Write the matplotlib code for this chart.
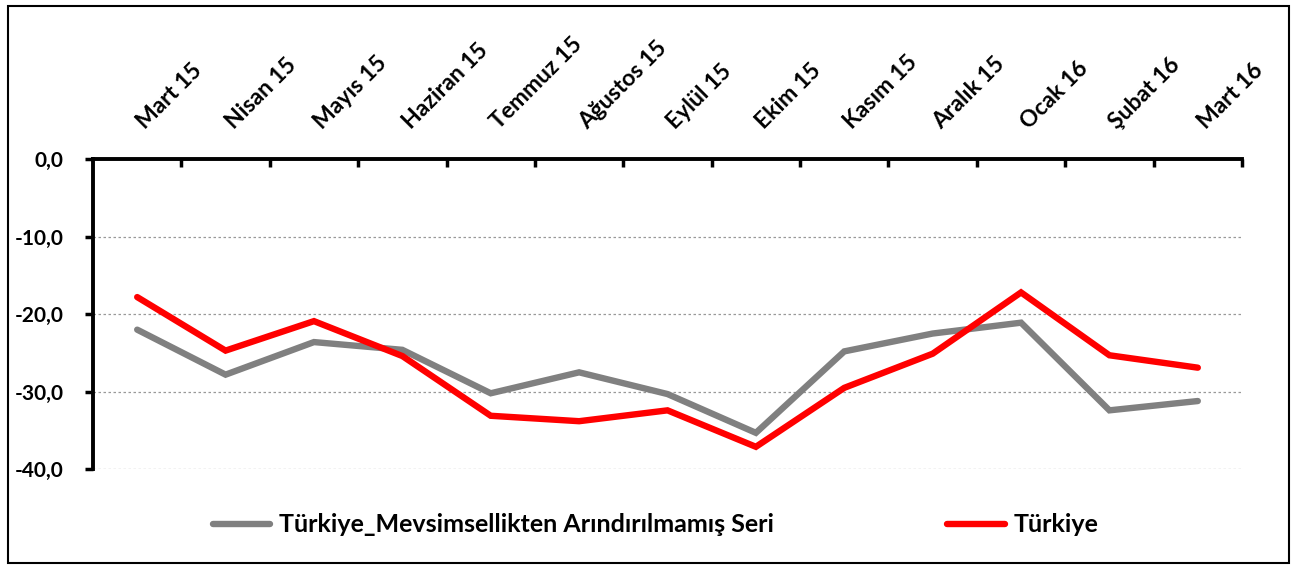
import matplotlib
matplotlib.use('Agg')
import matplotlib.pyplot as plt
from matplotlib.patches import Rectangle

plt.rcParams['font.family'] = ['Lato', 'DejaVu Sans']
plt.rcParams['font.weight'] = 'bold'

months = ['Mart 15', 'Nisan 15', 'Mayıs 15', 'Haziran 15', 'Temmuz 15', 'Ağustos 15', 'Eylül 15',
          'Ekim 15', 'Kasım 15', 'Aralık 15', 'Ocak 16', 'Şubat 16', 'Mart 16']
raw_series = [-22.0, -27.8, -23.6, -24.6, -30.2, -27.5, -30.3, -35.3, -24.8, -22.5, -21.1, -32.4, -31.2]
turkiye = [-17.8, -24.7, -20.9, -25.4, -33.1, -33.8, -32.4, -37.1, -29.5, -25.1, -17.2, -25.3, -26.9]
y_ticks = [0, -10, -20, -30, -40]
y_labels = ['0,0', '-10,0', '-20,0', '-30,0', '-40,0']

fig = plt.figure(figsize=(12.92, 5.66), dpi=100)
ax = fig.add_axes([93 / 1292, 1 - 469.3 / 566, (1242 - 93) / 1292, (469.3 - 159) / 566])

x = list(range(len(months)))
ax.plot(x, raw_series, color='#808080', lw=4.6, solid_capstyle='round', solid_joinstyle='miter',
        label='Türkiye_Mevsimsellikten Arındırılmamış Seri')
ax.plot(x, turkiye, color='#ff0000', lw=4.6, solid_capstyle='round', solid_joinstyle='miter',
        label='Türkiye')

ax.set_xlim(-0.5, len(months) - 0.5)
ax.set_ylim(-40, 0)

# y axis on the left, category axis along the top (crosses at 0)
ax.set_yticks(y_ticks)
ax.set_yticklabels(y_labels, fontsize=15, fontweight='bold')
ax.tick_params(axis='y', direction='out', length=6, width=2.5, pad=15)
ax.yaxis.grid(True, linestyle=(0, (2, 2)), color='#999999', lw=0.9)
ax.set_axisbelow(True)

ax.xaxis.set_ticks_position('top')
ax.set_xticks([i + 0.5 for i in range(len(months))])
ax.set_xticklabels([])
ax.tick_params(axis='x', direction='in', length=6, width=2.5)
for i, m in enumerate(months):
    ax.annotate(m, xy=(i, 0), xycoords='data', xytext=(11, 26), textcoords='offset pixels',
                rotation=45, rotation_mode='anchor', ha='left', va='bottom',
                fontsize=16.5, fontweight='bold')

for side in ['right', 'bottom']:
    ax.spines[side].set_visible(False)
ax.spines['left'].set_linewidth(2.8)
ax.spines['top'].set_linewidth(2.8)

leg = fig.legend(loc='center left', bbox_to_anchor=(213 / 1292, 1 - 525 / 566), ncol=2,
                 frameon=False, fontsize=18, handlelength=2.3, handletextpad=0.36,
                 columnspacing=6.9, borderaxespad=0, borderpad=0)
for t in leg.get_texts():
    t.set_fontweight('bold')

# outer chart border
fig.patches.append(Rectangle((8 / 1292, 3 / 566), (1289 - 8) / 1292, (563 - 6) / 566,
                             transform=fig.transFigure, fill=False, edgecolor='black', lw=1.5))

fig.savefig('out.png', dpi=100)
